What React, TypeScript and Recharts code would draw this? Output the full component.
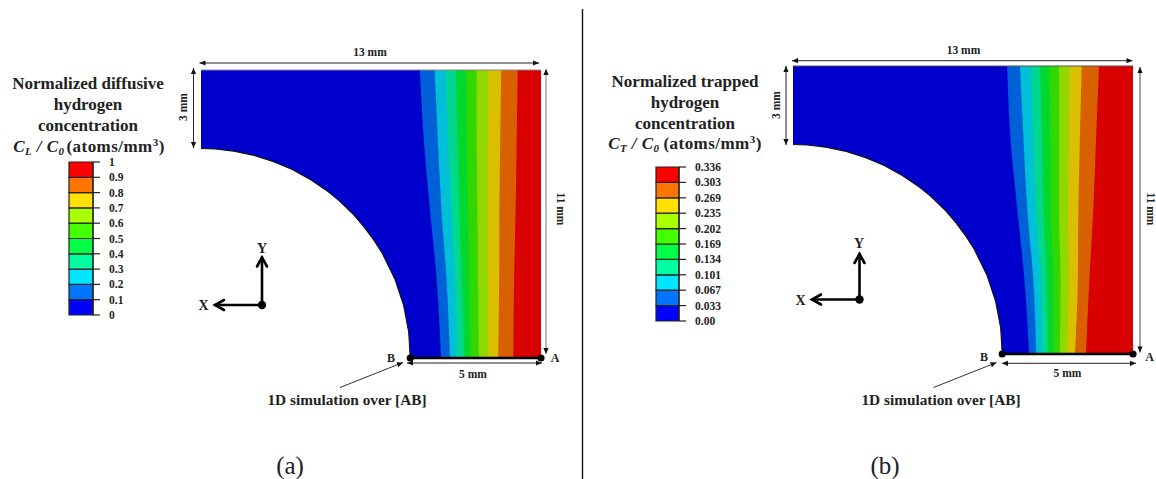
import React from 'react';
import { ComposedChart, BarChart, Area, Line, Bar, XAxis, YAxis, ReferenceLine, ReferenceDot } from 'recharts';

// Geometry of the notched plate, in mm (y measured up from edge AB)
const filletY = [11, 9, 8.01, 8, 7.98, 7.9, 7.75, 7.5, 7.2, 6.8, 6.4, 6, 5.5, 5, 4.5, 4, 3, 2, 1, 0];
const filletX = [0, 0, 0, 0, 0.55, 1.26, 1.98, 2.78, 3.49, 4.21, 4.8, 5.29, 5.81, 6.24, 6.61, 6.93, 7.42, 7.75, 7.94, 8];

// Contour boundaries: x position (mm) of each of the nine band edges, per height
const contourYA = [11, 8.3, 5.7, 3, 0];
const contourA = [
  [8.37, 8.93, 9.37, 9.75, 10.13, 10.54, 10.98, 11.48, 12.11],
  [8.52, 9.06, 9.46, 9.8, 10.16, 10.54, 10.97, 11.44, 12.07],
  [8.75, 9.19, 9.57, 9.87, 10.21, 10.57, 10.95, 11.41, 12.03],
  [9.01, 9.39, 9.71, 9.97, 10.26, 10.59, 10.97, 11.4, 11.97],
  [9.18, 9.52, 9.8, 10.06, 10.31, 10.62, 10.98, 11.36, 11.94],
];
const contourYB = [11, 8.3, 5.5, 2.83, 0];
const contourB = [
  [8.19, 8.68, 9.1, 9.45, 9.8, 10.17, 10.57, 11.04, 11.7],
  [8.31, 8.81, 9.19, 9.51, 9.83, 10.17, 10.54, 10.97, 11.59],
  [8.58, 8.96, 9.29, 9.57, 9.85, 10.17, 10.52, 10.91, 11.48],
  [8.85, 9.19, 9.47, 9.7, 9.95, 10.23, 10.54, 10.89, 11.33],
  [9.03, 9.3, 9.53, 9.74, 9.95, 10.2, 10.48, 10.78, 11.2],
];

const plateColors = ['#0000cd', '#0060d8', '#00c0d8', '#00d890', '#00d830', '#30d800', '#90d800', '#d8c000', '#d86000', '#d80000'];
const legendColors = ['#0000ff', '#0075ff', '#00e6ff', '#00ffa0', '#00ff45', '#45ff00', '#aaff00', '#ffe000', '#ff7500', '#ff0000'];
const legendLabelsA = ['0', '0.1', '0.2', '0.3', '0.4', '0.5', '0.6', '0.7', '0.8', '0.9', '1'];
const legendLabelsB = ['0.00', '0.033', '0.067', '0.101', '0.134', '0.169', '0.202', '0.235', '0.269', '0.303', '0.336'];
const legendSteps = [1, 1, 1, 1, 1, 1, 1, 1, 1, 1];

const SERIF = '"Liberation Serif", serif';
const INK = '#222';

const filletRows = filletY.map((y, i) => ({ y, x: filletX[i] }));
const filletEdge = filletRows.filter((r) => r.y <= 8);

function Plate({ left, top, ys, contour, edge }: { left: number; top: number; ys: number[]; contour: number[][]; edge: string }) {
  const rows = ys.map((y, i) => ({ y, edges: contour[i] }));
  return (
    <div style={{ position: 'absolute', left, top }}>
      <ComposedChart width={350} height={298} layout="vertical" margin={{ left: 5, right: 5, top: 5, bottom: 5 }}>
        <XAxis type="number" domain={[0, 13]} hide />
        <YAxis type="number" dataKey="y" domain={[0, 11]} reversed hide />
        <Area data={filletRows} dataKey={(r: any) => (r && r.x !== undefined ? [r.x, 13] : undefined)} type="linear" fill={plateColors[0]} fillOpacity={1} stroke="none" isAnimationActive={false} dot={false} activeDot={false} />
        {plateColors.slice(1).map((c, i) => (
          <Area key={c} data={rows} dataKey={(r: any) => (r && r.edges ? [r.edges[i], 13] : undefined)} type="monotoneY" fill={c} fillOpacity={1} stroke="none" isAnimationActive={false} dot={false} activeDot={false} />
        ))}
        <Line data={filletEdge} dataKey="x" type="linear" stroke="#111" strokeWidth={1.1} dot={false} activeDot={false} isAnimationActive={false} />
        <ReferenceLine segment={[{ x: 0, y: 11 }, { x: 13, y: 11 }]} stroke={edge} strokeWidth={1} ifOverflow="visible" />
        <ReferenceLine segment={[{ x: 8, y: 0 }, { x: 13, y: 0 }]} stroke="#000" strokeWidth={2.5} ifOverflow="visible" />
        <ReferenceDot x={8} y={0} r={3.6} fill="#000" stroke="none" ifOverflow="visible" />
        <ReferenceDot x={13} y={0} r={3.6} fill="#000" stroke="none" ifOverflow="visible" />
      </ComposedChart>
    </div>
  );
}

function ColorBar({ left, top, labels, barWidth, height }: { left: number; top: number; labels: string[]; barWidth: number; height: number }) {
  const row: Record<string, number | string> = { name: 'bar' };
  legendSteps.forEach((v, i) => { row['s' + i] = v; });
  const ticks = labels.map((_, i) => i);
  return (
    <div style={{ position: 'absolute', left, top }}>
      <BarChart width={barWidth + 62} height={height + 16} data={[row]} barCategoryGap={0} margin={{ left: 1, right: 0, top: 8, bottom: 8 }}>
        <XAxis dataKey="name" hide />
        <YAxis
          orientation="right"
          type="number"
          domain={[0, 10]}
          ticks={ticks}
          interval={0}
          width={61}
          tickFormatter={(v: number) => labels[v]}
          tickSize={7}
          tickMargin={9}
          tickLine={{ stroke: INK, strokeWidth: 1.2 }}
          axisLine={{ stroke: INK, strokeWidth: 1.2 }}
          tick={{ fontFamily: SERIF, fontWeight: 700, fontSize: 11.5, fill: INK, textAnchor: 'start' }}
        />
        {legendColors.map((c, i) => (
          <Bar key={c} dataKey={'s' + i} stackId="a" fill={c} stroke={INK} strokeWidth={1.2} isAnimationActive={false} />
        ))}
      </BarChart>
    </div>
  );
}

function DimArrow({ x1, y1, x2, y2, color = INK, single = false }: { x1: number; y1: number; x2: number; y2: number; color?: string; single?: boolean }) {
  const a = Math.atan2(y2 - y1, x2 - x1);
  const head = (x: number, y: number, t: number) => {
    const l = 6, w = 2.6;
    const bx = x - Math.cos(t) * l, by = y - Math.sin(t) * l;
    return `${x},${y} ${bx - Math.sin(t) * w},${by + Math.cos(t) * w} ${bx + Math.sin(t) * w},${by - Math.cos(t) * w}`;
  };
  return (
    <g>
      <line x1={x1} y1={y1} x2={x2} y2={y2} stroke={color} strokeWidth={1} />
      <polygon points={head(x2, y2, a)} fill="#111" />
      {single ? null : <polygon points={head(x1, y1, a + Math.PI)} fill="#111" />}
    </g>
  );
}

function Triad({ x, y, topY, leftX }: { x: number; y: number; topY: number; leftX: number }) {
  const s = { stroke: '#000', strokeWidth: 2.6, fill: 'none', strokeLinecap: 'round' as const };
  return (
    <g>
      <line x1={x} y1={y} x2={x} y2={topY} {...s} />
      <line x1={x} y1={y} x2={leftX} y2={y} {...s} />
      <polyline points={`${x - 5},${topY + 9} ${x},${topY} ${x + 5},${topY + 9}`} {...s} />
      <polyline points={`${leftX + 9},${y - 5} ${leftX},${y} ${leftX + 9},${y + 5}`} {...s} />
      <circle cx={x} cy={y} r={4.2} fill="#000" />
    </g>
  );
}

const T = ({ x, y, size = 11.5, anchor = 'middle', children, rotate, weight = 700 }: any) => (
  <text
    x={x}
    y={y}
    fontSize={size}
    fontFamily={SERIF}
    fontWeight={weight}
    fill={INK}
    textAnchor={anchor}
    transform={rotate ? `rotate(${rotate} ${x} ${y})` : undefined}
  >
    {children}
  </text>
);

function Formula({ x, y, sub, gap }: { x: number; y: number; sub: string; gap: number }) {
  return (
    <text x={x} y={y} fontSize={17} fontFamily={SERIF} fontWeight={700} fill={INK} textAnchor="middle" letterSpacing={0.45}>
      <tspan fontStyle="italic">C</tspan>
      <tspan fontStyle="italic" fontSize={11} dy={3}>{sub}</tspan>
      <tspan fontStyle="italic" dy={-3}> / C</tspan>
      <tspan fontStyle="italic" fontSize={11} dy={3}>0</tspan>
      <tspan dy={-3} dx={gap}>(atoms/mm</tspan>
      <tspan fontSize={11} dy={-6}>3</tspan>
      <tspan dy={6}>)</tspan>
    </text>
  );
}

export default function App() {
  return (
    <div style={{ position: 'absolute', left: 0, top: 0, width: 1156, height: 479, overflow: 'hidden', background: '#fff' }}>
      <Plate left={196} top={65} ys={contourYA} contour={contourA} edge="#888" />
      <Plate left={788} top={61} ys={contourYB} contour={contourB} edge="#555" />
      <ColorBar left={68} top={154} labels={legendLabelsA} barWidth={24} height={153} />
      <ColorBar left={655} top={159} labels={legendLabelsB} barWidth={23} height={154} />
      <svg width={1156} height={479} style={{ position: 'absolute', left: 0, top: 0, pointerEvents: 'none' }}>
        <line x1={582.5} y1={9} x2={582.5} y2={479} stroke="#111" strokeWidth={1.4} />

        {/* panel (a) */}
        <T x={88} y={89} size={17}>Normalized diffusive</T>
        <T x={88} y={110} size={17}>hydrogen</T>
        <T x={88} y={131} size={17}>concentration</T>
        <Formula x={89} y={152} sub="L" gap={2} />
        <DimArrow x1={199.5} y1={63} x2={539} y2={63} />
        <T x={370} y={56}>13 mm</T>
        <DimArrow x1={193.5} y1={68} x2={193.5} y2={148} />
        <T x={187} y={107} rotate={-90}>3 mm</T>
        <DimArrow x1={546} y1={69} x2={546} y2={354} color="#777" />
        <T x={557} y={209} rotate={90}>11 mm</T>
        <DimArrow x1={407} y1={363} x2={542} y2={363} />
        <T x={473} y={377.5}>5 mm</T>
        <T x={391} y={361.5} size={12}>B</T>
        <T x={555} y={361.5} size={12}>A</T>
        <DimArrow x1={340} y1={387.5} x2={403} y2={362.5} color="#333" single />
        <T x={347} y={405} size={15.3}>1D simulation over [AB]</T>
        <Triad x={262} y={305} topY={257.5} leftX={215} />
        <T x={262} y={253} size={14}>Y</T>
        <T x={203.5} y={310} size={14}>X</T>
        <T x={290} y={474} size={25} weight={400}>(a)</T>

        {/* panel (b) */}
        <T x={685} y={87} size={17}>Normalized trapped</T>
        <T x={685} y={108} size={17}>hydrogen</T>
        <T x={685} y={128.5} size={17}>concentration</T>
        <Formula x={685} y={149} sub="T" gap={4} />
        <DimArrow x1={792} y1={60.7} x2={1132.5} y2={60.7} />
        <T x={963.5} y={54}>13 mm</T>
        <DimArrow x1={786} y1={66} x2={786} y2={145} />
        <T x={780} y={105} rotate={-90}>3 mm</T>
        <DimArrow x1={1140} y1={67} x2={1140} y2={352.5} color="#444" />
        <T x={1146.5} y={209} rotate={90}>11 mm</T>
        <DimArrow x1={1002} y1={363.3} x2={1136} y2={363.3} />
        <T x={1067.5} y={376.5}>5 mm</T>
        <T x={984} y={360.5} size={12}>B</T>
        <T x={1149.5} y={360.5} size={12}>A</T>
        <DimArrow x1={933.5} y1={387.5} x2={996.5} y2={362.5} color="#333" single />
        <T x={941} y={405} size={15.3}>1D simulation over [AB]</T>
        <Triad x={859.5} y={299.5} topY={254} leftX={812} />
        <T x={859} y={247.5} size={14}>Y</T>
        <T x={800.5} y={304.5} size={14}>X</T>
        <T x={885} y={474} size={25} weight={400}>(b)</T>
      </svg>
    </div>
  );
}
